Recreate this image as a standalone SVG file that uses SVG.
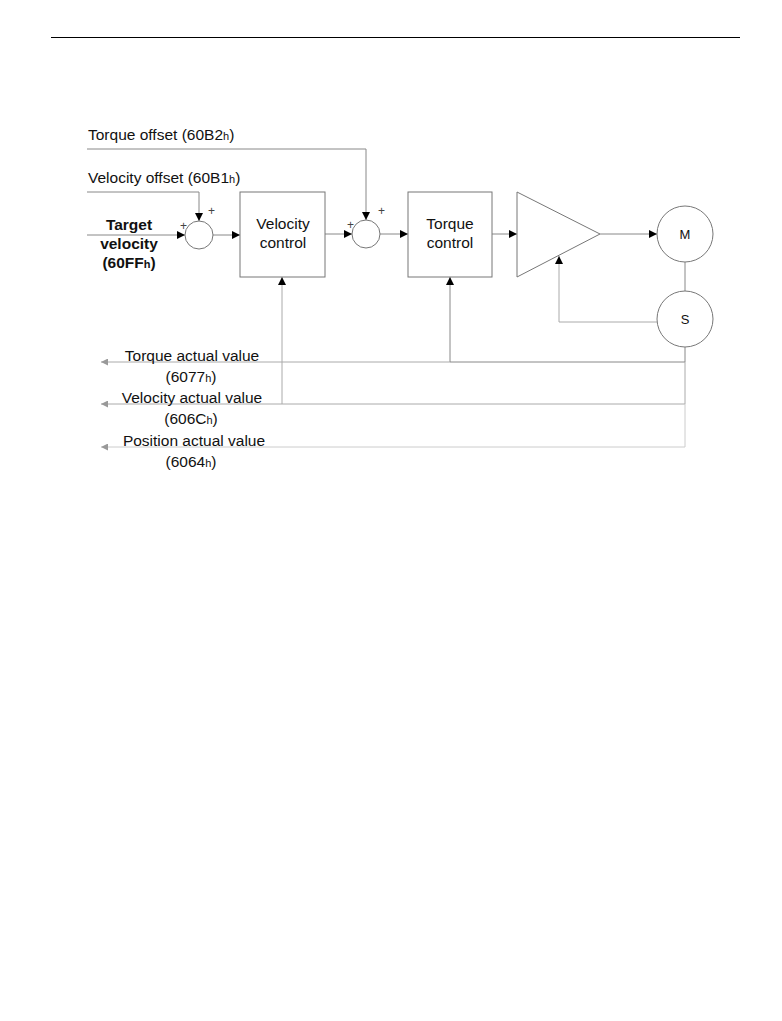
<svg xmlns="http://www.w3.org/2000/svg" width="782" height="1021" viewBox="0 0 782 1021">
<defs>
<marker id="ah" viewBox="0 0 10 10" refX="10" refY="5" markerWidth="8" markerHeight="8" markerUnits="userSpaceOnUse" orient="auto"><path d="M0,0 L10,5 L0,10 z" fill="#000"/></marker>
<marker id="ahg" viewBox="0 0 10 10" refX="10" refY="5" markerWidth="7" markerHeight="7" markerUnits="userSpaceOnUse" orient="auto"><path d="M0,0 L10,5 L0,10 z" fill="#999"/></marker>
</defs>
<style>
text{font-family:"Liberation Sans",Arial,sans-serif;font-size:15.5px;fill:#111}
.c{text-anchor:middle}
.b{font-weight:bold}
.s{font-size:11px}
.pl{font-size:12px;fill:#444}
.blk{stroke:#777;stroke-width:1;fill:#fff}
.ln{stroke:#888;stroke-width:1;fill:none}
.gl{stroke:#aaa;stroke-width:1;fill:none}
</style>
<rect width="782" height="1021" fill="#fff"/>
<line x1="51" y1="37.5" x2="740" y2="37.5" stroke="#000" stroke-width="1.2"/>

<g id="connectors">
<polyline class="ln" points="87,149 366,149 366,220" marker-end="url(#ah)"/>
<polyline class="ln" points="87,192 199,192 199,221" marker-end="url(#ah)"/>
<line class="ln" x1="87" y1="235" x2="185" y2="235" marker-end="url(#ah)"/>
<line class="ln" x1="213" y1="235" x2="240" y2="235" marker-end="url(#ah)"/>
<line class="ln" x1="325" y1="234" x2="352" y2="234" marker-end="url(#ah)"/>
<line class="ln" x1="380" y1="234" x2="408" y2="234" marker-end="url(#ah)"/>
<line class="ln" x1="492" y1="234" x2="517" y2="234" marker-end="url(#ah)"/>
<line class="ln" x1="600" y1="234" x2="657" y2="234" marker-end="url(#ah)"/>
<line class="ln" x1="685" y1="262" x2="685" y2="291"/>
<polyline class="gl" points="657,322 559,322 559,256" marker-end="url(#ah)"/>
<polyline class="ln" points="685,347 685,362 450,362 450,277" marker-end="url(#ah)"/>
<line class="gl" x1="450" y1="362" x2="101" y2="362" marker-end="url(#ahg)"/>
<polyline class="gl" points="685,362 685,404 282,404 282,277" marker-end="url(#ah)"/>
<line class="gl" x1="282" y1="404" x2="101" y2="404" marker-end="url(#ahg)"/>
<polyline stroke="#ccc" fill="none" points="685,404 685,447 101,447" marker-end="url(#ahg)"/>
</g>

<g id="sum1"><circle class="blk" cx="199" cy="235" r="14"/>
<text class="pl" x="180" y="230">+</text><text class="pl" x="208" y="215">+</text></g>
<g id="velocity-control"><rect class="blk" x="240" y="192" width="85" height="85"/>
<text class="c" x="283" y="229">Velocity</text><text class="c" x="283" y="248">control</text></g>
<g id="sum2"><circle class="blk" cx="366" cy="234" r="14"/>
<text class="pl" x="347" y="229">+</text><text class="pl" x="378" y="215">+</text></g>
<g id="torque-control"><rect class="blk" x="408" y="192" width="84" height="85"/>
<text class="c" x="450" y="229">Torque</text><text class="c" x="450" y="248">control</text></g>
<g id="amplifier"><polygon class="blk" points="517,192 600,234 517,277"/></g>
<g id="motor"><circle class="blk" cx="685" cy="234" r="28"/><text class="c" x="685" y="239" style="font-size:13px">M</text></g>
<g id="sensor"><circle class="blk" cx="685" cy="319" r="28"/><text class="c" x="685" y="324" style="font-size:13px">S</text></g>

<g id="labels">
<text x="88" y="140">Torque offset (60B2<tspan class="s">h</tspan>)</text>
<text x="88" y="183">Velocity offset (60B1<tspan class="s">h</tspan>)</text>
<text class="c b" x="129" y="230">Target</text>
<text class="c b" x="129" y="249">velocity</text>
<text class="c b" x="129" y="268">(60FF<tspan class="s">h</tspan>)</text>
<text class="c" x="192" y="361">Torque actual value</text>
<text class="c" x="191" y="382">(6077<tspan class="s">h</tspan>)</text>
<text class="c" x="192" y="403">Velocity actual value</text>
<text class="c" x="191" y="424">(606C<tspan class="s">h</tspan>)</text>
<text class="c" x="194" y="446">Position actual value</text>
<text class="c" x="191" y="467">(6064<tspan class="s">h</tspan>)</text>
</g>
</svg>
